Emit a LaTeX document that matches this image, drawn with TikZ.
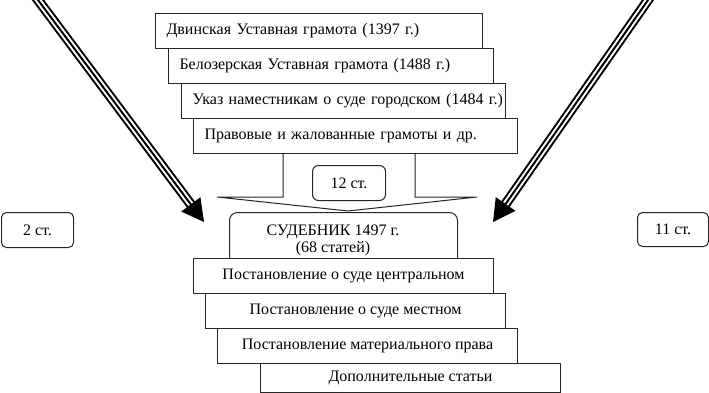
\documentclass[tikz,border=0pt]{standalone}
\usepackage{fontspec}
\setmainfont{Liberation Serif}
\usetikzlibrary{calc}
\begin{document}
\begin{tikzpicture}[x=1pt,y=-1pt,
 every node/.style={font=\fontsize{16}{16}\selectfont},
 box/.style={draw=black!85, fill=white, line width=1pt, inner sep=0pt, minimum height=35pt, anchor=north west},
 lbox/.style={box, align=left, inner xsep=11pt},
 cbox/.style={box, align=center},
 rbox/.style={draw=black!85, fill=white, line width=1pt, rounded corners=6pt, inner sep=0pt, anchor=north west},
 outerline/.style={line width=10pt},
 innerwhite/.style={white, line width=6pt},
 innerline/.style={line width=2pt}
]
\useasboundingbox (0,0) rectangle (709,393);

% top stack
\node[lbox, text width=305pt] (t1) at (155,13) {\mbox{Двинская Уставная грамота (1397 г.)}};
\node[lbox, text width=303pt] (t2) at (168,48) {\mbox{Белозерская Уставная грамота (1488 г.)}};
\node[lbox, text width=302pt] (t3) at (181,83) {\mbox{Указ наместникам о суде городском (1484 г.)}};
% block arrow
\draw[draw=black!85, fill=white, line width=1pt] (283,153) -- (283,197) -- (217,197) -- (348,211) -- (477,197) -- (415,197) -- (415,153) -- cycle;
\node[lbox, text width=302pt] (t4) at (193,118) {\mbox{Правовые и жалованные грамоты и др.}};

\node[rbox, minimum width=73pt, minimum height=35pt] (s12) at (312,165) {12 ст.};

% sudebnik
\node[rbox, rounded corners=8pt, minimum width=228pt, minimum height=60pt] (sud) at (229,212) {};
\node[align=center, inner sep=0pt] (sudt) at (333,240) {СУДЕБНИК 1497 г.\\[1pt](68 статей)};

% bottom stack
\node[cbox, minimum width=300pt] (b1) at (193,258) {Постановление о суде центральном};
\node[cbox, minimum width=300pt] (b2) at (205,293) {Постановление о суде местном};
\node[cbox, minimum width=300pt] (b3) at (217,328) {Постановление материального права};
\node[cbox, minimum width=300pt, minimum height=29pt] (b4) at (260,363) {Дополнительные статьи};

% side boxes
\node[rbox, rounded corners=5pt, minimum width=72pt, minimum height=35pt] (s2) at (1,212) {2 ст.};
\node[rbox, rounded corners=5pt, minimum width=71pt, minimum height=34pt] (s11) at (637,212) {11 ст.};

% diagonal arrows
\coordinate (la0) at (32,-8);
\coordinate (la1) at (204,222);
\coordinate (ra0) at (653.6,-8);
\coordinate (ra1) at (493,222);

\foreach \s/\t in {la0/la1, ra0/ra1}{
  \coordinate (sb) at ($(\t)!20pt!(\s)$);
  \coordinate (hb) at ($(\t)!22pt!(\s)$);
  \draw[outerline] (\s) -- (sb);
  \draw[innerwhite] (\s) -- (sb);
  \draw[innerline] (\s) -- (sb);
  \fill (\t) -- ($(hb)!12pt!90:(\s)$) -- ($(hb)!12pt!-90:(\s)$) -- cycle;
}
\end{tikzpicture}
\end{document}
